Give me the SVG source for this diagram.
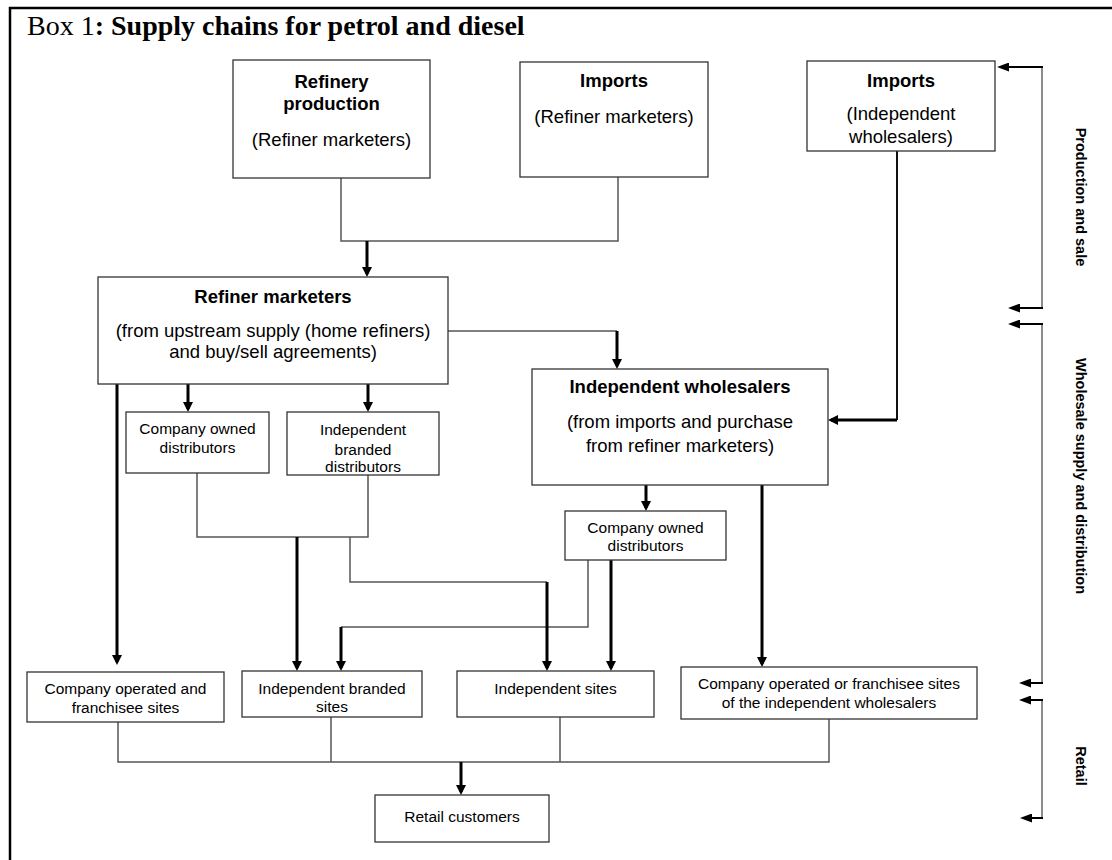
<svg xmlns="http://www.w3.org/2000/svg" width="1112" height="860" viewBox="0 0 1112 860">
<style>
  .box { fill: #fff; stroke: #333; stroke-width: 1.3; }
  .t { font-family: "Liberation Sans", Arial, sans-serif; fill: #000; text-anchor: middle; }
  .big { font-size: 18.5px; }
  .sm { font-size: 15.5px; }
  .b { font-weight: bold; }
  .thin { fill: none; stroke: #555; stroke-width: 1.5; }
  .thick { fill: none; stroke: #000; stroke-width: 3; marker-end: url(#ah); }
  .scale { fill: none; stroke: #666; stroke-width: 1.5; }
  .sarr { fill: none; stroke: #000; stroke-width: 2; marker-end: url(#ah2); }
  .lab { font-family: "Liberation Sans", Arial, sans-serif; font-size: 14.5px; font-weight: bold; text-anchor: middle; }
</style>
<defs>
  <marker id="ah" viewBox="0 0 10 10" refX="7" refY="5" markerWidth="10" markerHeight="10" markerUnits="userSpaceOnUse" orient="auto">
    <path d="M0,0 L10,5 L0,10 z" fill="#000"/>
  </marker>
  <marker id="ah2" viewBox="0 0 12 9" refX="9" refY="4.5" markerWidth="12" markerHeight="9" markerUnits="userSpaceOnUse" orient="auto">
    <path d="M0,0 L12,4.5 L0,9 z" fill="#000"/>
  </marker>
</defs>
<rect x="0" y="0" width="1112" height="860" fill="#fff"/>
<rect x="10" y="8" width="1120" height="880" fill="none" stroke="#000" stroke-width="2.5"/>
<text x="27" y="35" font-family="'Liberation Serif', 'Times New Roman', serif" font-size="28px">Box 1<tspan font-weight="bold">: Supply chains for petrol and diesel</tspan></text>

<g id="connectors">
  <path class="thin" d="M341,178 V241 H618 V177"/>
  <path class="thin" d="M448,331 H617"/>
  <path d="M897,151 V420" fill="none" stroke="#111" stroke-width="2"/>
  <path class="thin" d="M197,473 V537 H368 V475"/>
  <path class="thin" d="M350,537 V582 H547"/>
  <path class="thin" d="M588,560 V627 H341"/>
  <path class="thin" d="M118,722 V762 H829 V719"/>
  <path class="thin" d="M331,717 V762"/>
  <path class="thin" d="M560,717 V762"/>

  <path class="thick" d="M367,241 V274"/>
  <path class="thick" d="M617,331 V366"/>
  <path class="thick" d="M897,420 H831"/>
  <path class="thick" d="M117,384 V662"/>
  <path class="thick" d="M188,384 V409"/>
  <path class="thick" d="M368,384 V409"/>
  <path class="thick" d="M646,485 V508"/>
  <path class="thick" d="M762,485 V664"/>
  <path class="thick" d="M297,537 V668"/>
  <path class="thick" d="M547,582 V668"/>
  <path class="thick" d="M341,627 V668"/>
  <path class="thick" d="M611,560 V668"/>
  <path class="thick" d="M461,762 V792"/>

  <path class="scale" d="M1042,67 V308"/>
  <path class="scale" d="M1042,324 V683"/>
  <path class="scale" d="M1042,700 V818"/>
  <path class="sarr" d="M1043,67 H1000"/>
  <path class="sarr" d="M1043,308 H1011"/>
  <path class="sarr" d="M1043,324 H1011"/>
  <path class="sarr" d="M1043,683 H1022"/>
  <path class="sarr" d="M1043,700 H1022"/>
  <path class="sarr" d="M1043,818 H1023"/>
</g>

<g id="refinery-production">
  <rect class="box" x="233" y="60" width="197" height="118"/>
  <text class="t big b" x="331.5" y="88">Refinery</text>
  <text class="t big b" x="331.5" y="110">production</text>
  <text class="t big" x="331.5" y="146">(Refiner marketers)</text>
</g>
<g id="imports-refiner">
  <rect class="box" x="520" y="62" width="188" height="115"/>
  <text class="t big b" x="614" y="87">Imports</text>
  <text class="t big" x="614" y="123">(Refiner marketers)</text>
</g>
<g id="imports-independent">
  <rect class="box" x="807" y="61" width="188" height="90"/>
  <text class="t big b" x="901" y="87">Imports</text>
  <text class="t big" x="901" y="120">(Independent</text>
  <text class="t big" x="901" y="143">wholesalers)</text>
</g>
<g id="refiner-marketers">
  <rect class="box" x="98" y="277" width="350" height="107"/>
  <text class="t big b" x="273" y="303">Refiner marketers</text>
  <text class="t big" x="273" y="337">(from upstream supply (home refiners)</text>
  <text class="t big" x="273" y="358">and buy/sell agreements)</text>
</g>
<g id="independent-wholesalers">
  <rect class="box" x="532" y="369" width="296" height="116"/>
  <text class="t big b" x="680" y="393">Independent wholesalers</text>
  <text class="t big" x="680" y="428">(from imports and purchase</text>
  <text class="t big" x="680" y="452">from refiner marketers)</text>
</g>
<g id="company-owned-distributors-1">
  <rect class="box" x="126" y="412" width="143" height="61"/>
  <text class="t sm" x="197.5" y="434">Company owned</text>
  <text class="t sm" x="197.5" y="453">distributors</text>
</g>
<g id="independent-branded-distributors">
  <rect class="box" x="287" y="412" width="152" height="63"/>
  <text class="t sm" x="363" y="435">Independent</text>
  <text class="t sm" x="363" y="455">branded</text>
  <text class="t sm" x="363" y="472">distributors</text>
</g>
<g id="company-owned-distributors-2">
  <rect class="box" x="565" y="511" width="161" height="49"/>
  <text class="t sm" x="645.5" y="533">Company owned</text>
  <text class="t sm" x="645.5" y="551">distributors</text>
</g>
<g id="company-operated-sites">
  <rect class="box" x="27" y="672" width="197" height="50"/>
  <text class="t sm" x="125.5" y="694">Company operated and</text>
  <text class="t sm" x="125.5" y="713">franchisee sites</text>
</g>
<g id="independent-branded-sites">
  <rect class="box" x="242" y="671" width="180" height="46"/>
  <text class="t sm" x="332" y="694">Independent branded</text>
  <text class="t sm" x="332" y="712">sites</text>
</g>
<g id="independent-sites">
  <rect class="box" x="457" y="671" width="197" height="46"/>
  <text class="t sm" x="555.5" y="694">Independent sites</text>
</g>
<g id="company-operated-franchisee-iw">
  <rect class="box" x="681" y="667" width="296" height="52"/>
  <text class="t sm" x="829" y="689">Company operated or franchisee sites</text>
  <text class="t sm" x="829" y="708">of the independent wholesalers</text>
</g>
<g id="retail-customers">
  <rect class="box" x="375" y="795" width="174" height="47"/>
  <text class="t sm" x="462" y="822">Retail customers</text>
</g>

<g id="stage-labels">
  <text class="lab" transform="translate(1076,197) rotate(90)">Production and sale</text>
  <text class="lab" transform="translate(1076,476) rotate(90)">Wholesale supply and distribution</text>
  <text class="lab" transform="translate(1076,766) rotate(90)">Retail</text>
</g>
</svg>
